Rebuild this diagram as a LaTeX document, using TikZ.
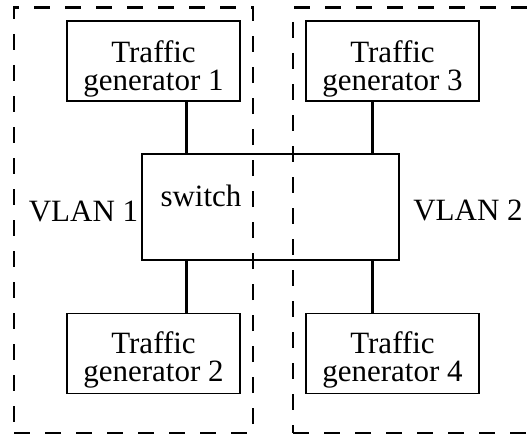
\documentclass[tikz,border=0pt]{standalone}
\usepackage{fontspec}
\setmainfont{Liberation Serif}
\begin{document}
\begin{tikzpicture}[x=1pt,y=-1pt,
  vlanbox/.style={draw, line width=2.2pt, dash pattern=on 16pt off 15pt, inner sep=0pt},
  genbox/.style={draw, line width=1.2pt, minimum width=173pt, minimum height=80pt, inner sep=0pt},
  swbox/.style={draw, line width=1.2pt, minimum width=257pt, minimum height=106pt, inner sep=0pt},
  lbl/.style={font=\fontsize{31}{28}\selectfont, align=center, inner sep=0pt},
  wire/.style={line width=2.4pt}]
\useasboundingbox (0,0) rectangle (527,436);
% VLAN areas
\node[vlanbox, minimum width=239pt, minimum height=425.5pt] (v1) at (133.5,220.25) {};
\node[vlanbox, minimum width=245pt, minimum height=425.5pt] (v2) at (415.5,220.25) {};
% switch
\node[swbox] (sw) at (270.5,207) {};
\node[lbl, anchor=base] (swt) at (201,206) {switch};
% traffic generators
\node[genbox] (g1) at (153.5,61) {};
\node[genbox] (g3) at (392.5,61) {};
\node[genbox] (g2) at (153.5,353.5) {};
\node[genbox] (g4) at (392.5,353.5) {};
\node[lbl] (g1t) at ([yshift=-7.5pt]g1.center) {Traffic\\generator 1};
\node[lbl] (g3t) at ([yshift=-7.5pt]g3.center) {Traffic\\generator 3};
\node[lbl] (g2t) at ([yshift=-6.5pt]g2.center) {Traffic\\generator 2};
\node[lbl] (g4t) at ([yshift=-6.5pt]g4.center) {Traffic\\generator 4};
% labels
\node[lbl, anchor=base] (l1) at (83.5,221) {VLAN 1};
\node[lbl, anchor=base] (l2) at (468,220) {VLAN 2};
% connectors
\draw[wire] ([xshift=120pt]g1.south west) -- ([xshift=120pt]g1.south west |- sw.north);
\draw[wire] ([xshift=67pt]g3.south west) -- ([xshift=67pt]g3.south west |- sw.north);
\draw[wire] ([xshift=120pt]g2.north west) -- ([xshift=120pt]g2.north west |- sw.south);
\draw[wire] ([xshift=67pt]g4.north west) -- ([xshift=67pt]g4.north west |- sw.south);
\end{tikzpicture}
\end{document}
